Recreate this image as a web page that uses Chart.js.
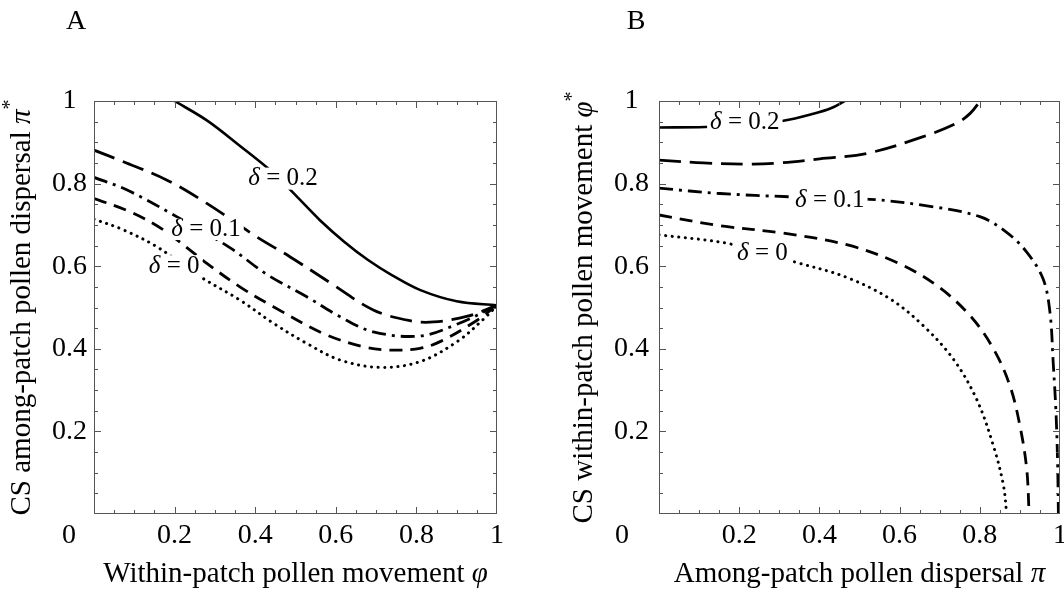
<!DOCTYPE html>
<html>
<head>
<meta charset="utf-8">
<script src="https://cdn.jsdelivr.net/npm/chart.js@4.4.1/dist/chart.umd.min.js"></script>
<style>
  html, body { margin: 0; padding: 0; background: #fff; }
  #wrap { position: relative; width: 1064px; height: 609px; }
  .panel { position: absolute; top: 0; width: 532px; height: 609px; }
</style>
</head>
<body>
<div id="wrap">
  <div class="panel" style="left:0"><canvas id="chartA" width="532" height="609"></canvas></div>
  <div class="panel" style="left:532px"><canvas id="chartB" width="532" height="609"></canvas></div>
</div>
<script>
// ---- Panel A: CS among-patch dispersal pi* vs within-patch movement phi ----
const phiA_d0  = [0, 0.073, 0.156, 0.263, 0.362, 0.445, 0.528, 0.61, 0.71, 0.809, 0.902, 0.969, 1];
const piA_d0   = [0.714, 0.688, 0.647, 0.575, 0.518, 0.462, 0.413, 0.373, 0.355, 0.369, 0.418, 0.474, 0.505];
const phiA_d05 = [0, 0.089, 0.172, 0.28, 0.362, 0.445, 0.569, 0.668, 0.734, 0.809, 0.86, 0.944, 1];
const piA_d05  = [0.764, 0.732, 0.688, 0.607, 0.55, 0.502, 0.437, 0.405, 0.397, 0.401, 0.418, 0.465, 0.505];
const phiA_d1  = [0, 0.081, 0.205, 0.337, 0.429, 0.528, 0.61, 0.693, 0.809, 0.902, 1];
const piA_d1   = [0.815, 0.785, 0.72, 0.645, 0.58, 0.526, 0.478, 0.441, 0.431, 0.46, 0.505];
const phiA_d15 = [0, 0.073, 0.18, 0.28, 0.404, 0.486, 0.586, 0.693, 0.784, 0.843, 0.927, 1];
const piA_d15  = [0.881, 0.853, 0.809, 0.752, 0.671, 0.623, 0.56, 0.494, 0.468, 0.465, 0.479, 0.505];
const phiA_d2  = [0.2, 0.28, 0.36, 0.44, 0.5, 0.56, 0.62, 0.68, 0.74, 0.81, 0.9, 1];
const piA_d2   = [1.0, 0.953, 0.893, 0.83, 0.772, 0.712, 0.66, 0.615, 0.578, 0.542, 0.515, 0.505];

// ---- Panel B: CS within-patch movement phi* vs among-patch dispersal pi ----
const piB_d0   = [0, 0.177, 0.343, 0.468, 0.576, 0.659, 0.734, 0.792, 0.834, 0.859, 0.867];
const phiB_d0  = [0.676, 0.654, 0.609, 0.573, 0.521, 0.456, 0.375, 0.278, 0.165, 0.069, 0];
const piB_d05  = [0, 0.152, 0.31, 0.468, 0.593, 0.693, 0.776, 0.834, 0.875, 0.9, 0.917, 0.923];
const phiB_d05 = [0.724, 0.698, 0.68, 0.652, 0.609, 0.553, 0.48, 0.4, 0.311, 0.214, 0.109, 0];
const piB_d1   = [0, 0.152, 0.327, 0.526, 0.676, 0.8, 0.867, 0.917, 0.958, 0.975, 0.983, 0.99, 0.994, 0.996];
const phiB_d1  = [0.789, 0.776, 0.768, 0.762, 0.745, 0.72, 0.682, 0.634, 0.569, 0.488, 0.367, 0.246, 0.125, 0];
const piB_d15  = [0, 0.11, 0.235, 0.302, 0.401, 0.518, 0.657, 0.742, 0.776, 0.801];
const phiB_d15 = [0.857, 0.85, 0.847, 0.85, 0.86, 0.873, 0.913, 0.946, 0.97, 1.0];
const piB_d2   = [0, 0.114, 0.214, 0.31, 0.385, 0.43, 0.463];
const phiB_d2  = [0.936, 0.937, 0.942, 0.952, 0.969, 0.983, 1.0];

const tickValues = [0.2, 0.4, 0.6, 0.8, 1];
const deltaLabels = ['0', '0.1', '0.2'];

// contour label anchors (data units)
const labelsA = [
  { x: 0.469, y: 0.812, text: deltaLabels[2] },
  { x: 0.278, y: 0.690, text: deltaLabels[1] },
  { x: 0.199, y: 0.600, text: deltaLabels[0] }
];
const labelsB = [
  { x: 0.214, y: 0.947, text: deltaLabels[2] },
  { x: 0.426, y: 0.760, text: deltaLabels[1] },
  { x: 0.258, y: 0.630, text: deltaLabels[0] }
];

const SERIF = '"Liberation Serif", "Times New Roman", serif';
const AXIS_FONT = 28;
const TITLE_FONT = 29;
const LABEL_FONT = 25;

const lineStyles = {
  d0:  { borderDash: [0.1, 6.5], borderCapStyle: 'round', borderWidth: 3 },
  d05: { borderDash: [13, 8], borderWidth: 2.8 },
  d1:  { borderDash: [14, 6, 3, 6], borderWidth: 2.8 },
  d15: { borderDash: [22, 9], borderWidth: 2.8 },
  d2:  { borderDash: [], borderWidth: 2.6 }
};

function toPoints(xs, ys) {
  return xs.map((v, i) => ({ x: v, y: ys[i] }));
}

function series(key, xs, ys) {
  return Object.assign({
    data: toPoints(xs, ys),
    showLine: true,
    borderColor: '#000',
    pointRadius: 0,
    tension: 0.35,
    fill: false
  }, lineStyles[key]);
}

// text made of parts (upright / italic / superscript), centred on cx,cy
function richText(ctx, parts, cx, cy, angle) {
  const fontOf = p => (p.italic ? 'italic ' : '') + (p.sup ? Math.round(TITLE_FONT * 0.7) : TITLE_FONT) + 'px ' + SERIF;
  let total = 0;
  const widths = parts.map(p => { ctx.font = fontOf(p); const w = ctx.measureText(p.t).width; total += w; return w; });
  ctx.save();
  ctx.translate(cx, cy);
  ctx.rotate(angle);
  ctx.textAlign = 'left';
  ctx.textBaseline = 'middle';
  ctx.fillStyle = '#000';
  let x = -total / 2;
  parts.forEach((p, i) => {
    ctx.font = fontOf(p);
    ctx.fillText(p.t, x, p.sup ? -TITLE_FONT * 0.38 : 0);
    x += widths[i];
  });
  ctx.restore();
}

// frame with inward ticks, contour labels, axis titles, origin "0" and panel letter
function decorPlugin(opt) {
  return {
    id: 'decor',
    afterDatasetsDraw(chart) {
      const { ctx, scales: { x, y } } = chart;
      ctx.save();
      opt.labels.forEach(l => {
        const px = x.getPixelForValue(l.x);
        const py = y.getPixelForValue(l.y);
        ctx.font = 'italic ' + LABEL_FONT + 'px ' + SERIF;
        const w1 = ctx.measureText('δ').width;
        ctx.font = LABEL_FONT + 'px ' + SERIF;
        const rest = ' = ' + l.text;
        const w2 = ctx.measureText(rest).width;
        const w = w1 + w2;
        ctx.fillStyle = '#fff';
        ctx.fillRect(px - w / 2 - 3, py - 11, w + 6, 22);
        ctx.fillStyle = '#000';
        ctx.textBaseline = 'middle';
        ctx.textAlign = 'left';
        ctx.font = 'italic ' + LABEL_FONT + 'px ' + SERIF;
        ctx.fillText('δ', px - w / 2, py);
        ctx.font = LABEL_FONT + 'px ' + SERIF;
        ctx.fillText(rest, px - w / 2 + w1, py);
      });
      ctx.restore();
    },
    afterDraw(chart) {
      const { ctx, chartArea: a, scales: { x, y } } = chart;
      ctx.save();
      ctx.strokeStyle = '#555';
      ctx.lineWidth = 1;
      ctx.strokeRect(a.left + 0.5, a.top + 0.5, a.right - a.left - 1, a.bottom - a.top - 1);
      ctx.beginPath();
      for (let i = 1; i < 20; i++) {
        const v = i * 0.05;
        const len = i % 4 === 0 ? 7 : 4;
        const px = Math.round(x.getPixelForValue(v)) + 0.5;
        ctx.moveTo(px, a.bottom); ctx.lineTo(px, a.bottom - len);
        ctx.moveTo(px, a.top); ctx.lineTo(px, a.top + len);
        const py = Math.round(y.getPixelForValue(v)) + 0.5;
        ctx.moveTo(a.left, py); ctx.lineTo(a.left + len, py);
        ctx.moveTo(a.right, py); ctx.lineTo(a.right - len, py);
      }
      ctx.stroke();
      ctx.fillStyle = '#000';
      ctx.font = AXIS_FONT + 'px ' + SERIF;
      ctx.textAlign = 'center';
      ctx.textBaseline = 'middle';
      ctx.fillText('0', a.left - opt.originDx, a.bottom + 22);
      ctx.fillText(opt.letter, opt.letterX, 22);
      ctx.restore();
      richText(ctx, opt.xTitle, (a.left + a.right) / 2, chart.height - 35, 0);
      richText(ctx, opt.yTitle, opt.yTitleX, (a.top + a.bottom) / 2, -Math.PI / 2);
    }
  };
}

function makePanel(id, datasets, opt) {
  const fmt = v => (v === 0 ? '' : String(Math.round(v * 10) / 10));
  new Chart(document.getElementById(id), {
    type: 'scatter',
    data: { datasets },
    options: {
      responsive: false,
      animation: false,
      layout: { padding: { left: 0, right: opt.padRight, top: 101, bottom: 0 } },
      plugins: { legend: { display: false }, tooltip: { enabled: false } },
      scales: {
        x: {
          type: 'linear', min: 0, max: 1,
          afterBuildTicks: s => { s.ticks = tickValues.map(v => ({ value: v })); },
          grid: { display: false, drawTicks: false },
          border: { display: false },
          ticks: { color: '#000', font: { family: SERIF, size: AXIS_FONT }, padding: 5, maxRotation: 0, callback: fmt },
          title: { display: false },
          afterFit: s => { s.height = 95; s.paddingLeft = 0; s.paddingRight = 0; }
        },
        y: {
          type: 'linear', min: 0, max: 1,
          afterBuildTicks: s => { s.ticks = tickValues.map(v => ({ value: v })); },
          grid: { display: false, drawTicks: false },
          border: { display: false },
          ticks: { color: '#000', font: { family: SERIF, size: AXIS_FONT }, padding: opt.yTickPad, crossAlign: 'center', callback: fmt },
          title: { display: false },
          afterFit: s => { s.width = opt.yWidth; s.paddingTop = 0; s.paddingBottom = 0; }
        }
      }
    },
    plugins: [decorPlugin(opt)]
  });
}

makePanel('chartA', [
  series('d2', phiA_d2, piA_d2),
  series('d15', phiA_d15, piA_d15),
  series('d1', phiA_d1, piA_d1),
  series('d05', phiA_d05, piA_d05),
  series('d0', phiA_d0, piA_d0)
], {
  padRight: 35, yWidth: 94, yTickPad: 7, originDx: 25, yTitleX: 22,
  xTitle: [{ t: 'Within-patch pollen movement ' }, { t: 'φ', italic: true }],
  yTitle: [{ t: 'CS among-patch pollen dispersal ' }, { t: 'π', italic: true }, { t: '*', sup: true }],
  labels: labelsA, letter: 'A', letterX: 76
});

makePanel('chartB', [
  series('d2', piB_d2, phiB_d2),
  series('d15', piB_d15, phiB_d15),
  series('d1', piB_d1, phiB_d1),
  series('d05', piB_d05, phiB_d05),
  series('d0', piB_d0, phiB_d0)
], {
  padRight: 4, yWidth: 127, yTickPad: 10, originDx: 37, yTitleX: 52,
  xTitle: [{ t: 'Among-patch pollen dispersal ' }, { t: 'π', italic: true }],
  yTitle: [{ t: 'CS within-patch pollen movement ' }, { t: 'φ', italic: true }, { t: '*', sup: true }],
  labels: labelsB, letter: 'B', letterX: 104
});
</script>
</body>
</html>
